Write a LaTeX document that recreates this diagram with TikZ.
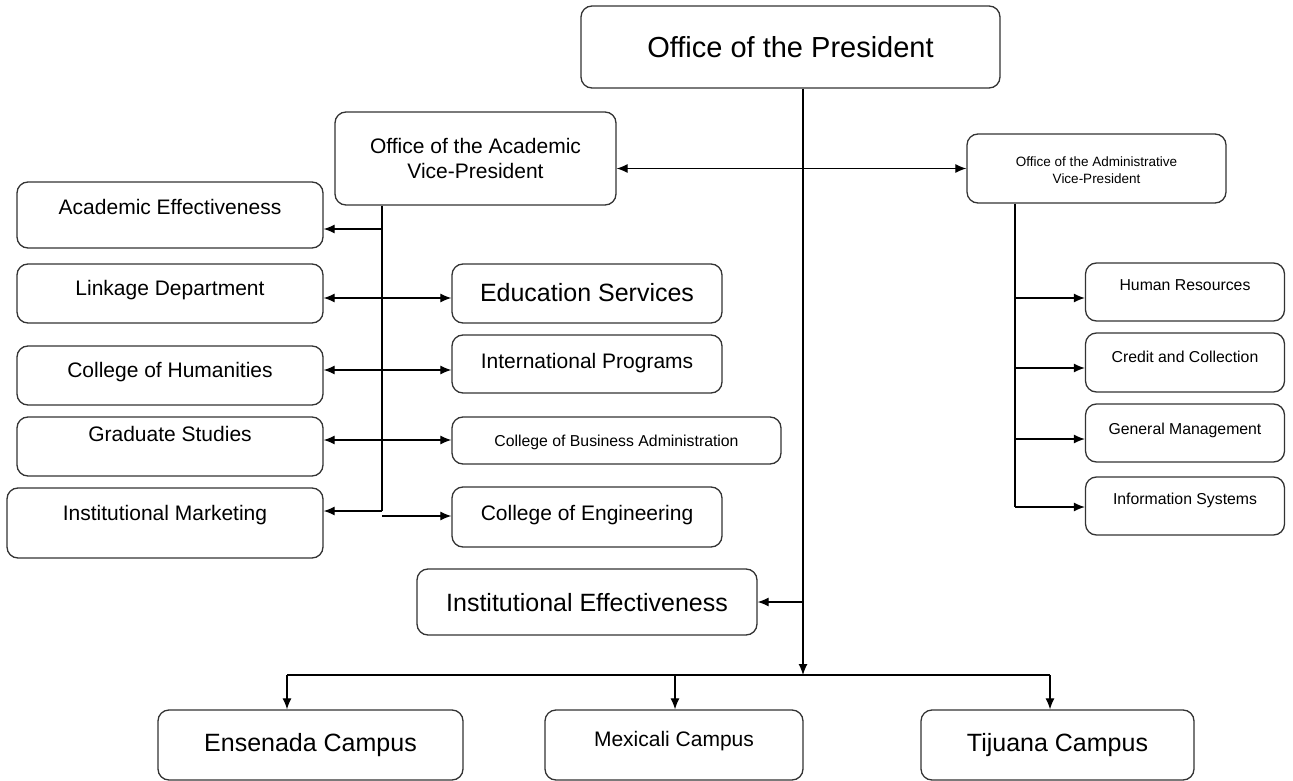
\documentclass[tikz,border=0pt]{standalone}
\usepackage{fontspec}
\setmainfont{Liberation Sans}
\usetikzlibrary{arrows.meta}
\tikzset{org box/.style={draw=black!80,line width=1.3pt,rounded corners=11pt,inner sep=0pt},
	huge font/.style={font=\fontsize{29}{35}\selectfont,text height=21pt},
	big font/.style={font=\fontsize{25}{30}\selectfont,text height=18pt},
	mid font/.style={font=\fontsize{21}{25}\selectfont},
	mid/.style={mid font,text height=15pt},
	small font/.style={font=\fontsize{15.8}{19}\selectfont,text height=11.4pt},
	lift/.style={text depth=#1},
}

\begin{document}
\begin{tikzpicture}[x=1pt,y=-1pt,line width=1.2pt,>={Latex[length=11pt,width=9pt]}]
	\useasboundingbox (0,0) rectangle (1293,781);
	
	\node[org box,huge font,lift=0pt,minimum width=419pt,minimum height=82pt] (pres) at (790.5,47) {Office of the President};
	\node[org box,mid font,align=center,minimum width=281pt,minimum height=93pt] (avp) at (475.5,158.5) {Office of the Academic\\Vice-President};
	\node[org box,font=\fontsize{13.5}{17}\selectfont,align=center,minimum width=259pt,minimum height=69pt] (advp) at (1096.5,168.5) {\\[-3pt]Office of the Administrative\\Vice-President};
	
	% academic side, left column
	\node[org box,mid,lift=16pt,minimum width=306pt,minimum height=66pt] (ae) at (170,215) {Academic Effectiveness};
	\node[org box,mid,lift=11pt,minimum width=306pt,minimum height=59pt] (lnk) at (170,293.5) {Linkage Department};
	\node[org box,mid,lift=11pt,minimum width=306pt,minimum height=59pt] (hum) at (170,375.5) {College of Humanities};
	\node[org box,mid,lift=25pt,minimum width=306pt,minimum height=59pt] (grad) at (170,446.5) {Graduate Studies};
	\node[org box,mid,lift=20pt,minimum width=316pt,minimum height=70pt] (mkt) at (165,523) {Institutional Marketing};
	
	% academic side, right column
	\node[org box,big font,lift=3pt,minimum width=270pt,minimum height=59pt] (edu) at (587,293.5) {Education Services};
	\node[org box,mid,lift=6pt,minimum width=270pt,minimum height=58pt] (intl) at (587,364) {International Programs};
	\node[org box,small font,lift=0pt,minimum width=329pt,minimum height=47pt] (bus) at (616.5,440.5) {College of Business Administration};
	\node[org box,mid,lift=8pt,minimum width=270pt,minimum height=60pt] (eng) at (587,517) {College of Engineering};
	\node[org box,big font,lift=0pt,minimum width=340pt,minimum height=66pt] (ie) at (587,602) {Institutional Effectiveness};
	
	% administrative side
	\node[org box,small font,lift=14pt,minimum width=199pt,minimum height=58pt] (hr) at (1185,292) {Human Resources};
	\node[org box,small font,lift=11pt,minimum width=199pt,minimum height=59pt] (crd) at (1185,362.5) {Credit and Collection};
	\node[org box,small font,lift=8pt,minimum width=199pt,minimum height=58pt] (gm) at (1185,433) {General Management};
	\node[org box,small font,lift=14pt,minimum width=199pt,minimum height=58pt] (inf) at (1185,506) {Information Systems};
	
	% campuses
	\node[org box,big font,lift=6pt,minimum width=305pt,minimum height=70pt] (ens) at (310.5,745) {Ensenada Campus};
	\node[org box,mid,lift=12pt,minimum width=258pt,minimum height=70pt] (mex) at (674,745) {Mexicali Campus};
	\node[org box,big font,lift=6pt,minimum width=273pt,minimum height=70pt] (tij) at (1057.5,745) {Tijuana Campus};
	
	% junction points
	\coordinate (hub) at (803,675);
	\coordinate (a0) at (382,229);
	\coordinate (a1) at (382,298);
	\coordinate (a2) at (382,370);
	\coordinate (a3) at (382,440);
	\coordinate (a4) at (382,511);
	\coordinate (a5) at (382,516);
	\coordinate (d1) at (1015,298);
	\coordinate (d2) at (1015,368);
	\coordinate (d3) at (1015,439);
	\coordinate (d4) at (1015,507);
	\coordinate (c1) at (287,675);
	\coordinate (c2) at (675,675);
	\coordinate (c3) at (1050,675);
	
	\path[draw]
	(pres.south -| hub) edge[->] (hub)
	(hub |- ie.east) edge[->] (ie.east)
	(advp.west) edge[<->] (advp.west -| avp.east)
	(avp.south -| a4) edge (a4)
	(a0) edge[->] (a0 -| ae.east)
	(a1 -| lnk.east) edge[<->] (a1 -| edu.west)
	(a2 -| hum.east) edge[<->] (a2 -| intl.west)
	(a3 -| grad.east) edge[<->] (a3 -| bus.west)
	(a4) edge[->] (a4 -| mkt.east)
	(a5) edge[->] (a5 -| eng.west)
	(advp.south -| d4) edge (d4)
	(d1) edge[->] (d1 -| hr.west)
	(d2) edge[->] (d2 -| crd.west)
	(d3) edge[->] (d3 -| gm.west)
	(d4) edge[->] (d4 -| inf.west)
	(c1) edge (c3)
	(c1) edge[->] (c1 |- ens.north)
	(c2) edge[->] (c2 |- mex.north)
	(c3) edge[->] (c3 |- tij.north);
\end{tikzpicture}
\end{document}
